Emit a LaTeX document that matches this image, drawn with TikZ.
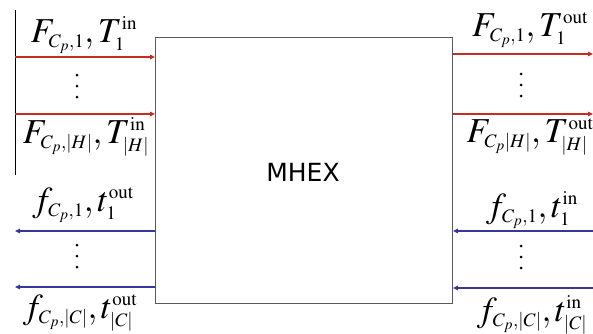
\documentclass[tikz,border=0pt]{standalone}
\usepackage{mathptmx}
\usepackage{fontspec}
\newfontfamily\labelsans{DejaVu Sans}
\usetikzlibrary{arrows.meta}
\DeclareMathSizes{35}{35}{19}{15}
\definecolor{hotred}{RGB}{200,45,35}
\definecolor{coldblue}{RGB}{55,55,155}
\definecolor{boxgray}{RGB}{90,90,90}
\tikzset{
  hotarrow/.style={draw=hotred, line width=1.2pt, -{Triangle[length=5pt,width=4.5pt]}},
  coldarrow/.style={draw=coldblue, line width=1.2pt, -{Triangle[length=5pt,width=4.5pt]}},
  streamlabel/.style={inner sep=0pt, font=\fontsize{35}{40}\selectfont},
  dotmark/.style={fill=black, circle, inner sep=0pt, minimum size=3pt},
  unitbox/.style={draw=boxgray, line width=1pt, minimum width=297pt, minimum height=266pt, inner sep=0pt}
}
\begin{document}
\begin{tikzpicture}[x=1pt,y=-1pt]
\useasboundingbox (0,0) rectangle (593,333);
\node[unitbox] (mhex) at (304,170) {};
\node[font=\labelsans\fontsize{25}{30}\selectfont] (mhexlabel) at (303,172) {MHEX};
% black vertical line
\coordinate (vtop) at (15,10);
\coordinate (vbot) at (15,175);
\draw[black, line width=1pt] (vtop) -- (vbot);
% hot inlets (left)
\coordinate (hinA) at (15,57);
\coordinate (hinB) at (15,114);
\draw[hotarrow] (hinA) -- (hinA -| mhex.west);
\draw[hotarrow] (hinB) -- (hinB -| mhex.west);
% hot outlets (right)
\coordinate (houtA) at (593,54);
\coordinate (houtB) at (593,114);
\draw[hotarrow] (houtA -| mhex.east) -- (houtA);
\draw[hotarrow] (houtB -| mhex.east) -- (houtB);
% cold outlets (left)
\coordinate (coutA) at (15,231);
\coordinate (coutB) at (15,287);
\draw[coldarrow] (coutA -| mhex.west) -- (coutA);
\draw[coldarrow] (coutB -| mhex.west) -- (coutB);
% cold inlets (right)
\coordinate (cinA) at (593,231);
\coordinate (cinB) at (593,288);
\draw[coldarrow] (cinA) -- (cinA -| mhex.east);
\draw[coldarrow] (cinB) -- (cinB -| mhex.east);
% labels
\node[streamlabel] (l1) at (84,35) {$F_{C_p,1},T_1^{\mathrm{in}}$};
\node[streamlabel] (l2) at (86,137) {$F_{C_p,|H|},T_{|H|}^{\mathrm{in}}$};
\node[streamlabel] (r1) at (530,30) {$F_{C_p,1},T_1^{\mathrm{out}}$};
\node[streamlabel] (r2) at (530,137) {$F_{C_p|H|},T_{|H|}^{\mathrm{out}}$};
\node[streamlabel] (l3) at (83,205) {$f_{C_p,1},t_1^{\mathrm{out}}$};
\node[streamlabel] (l4) at (80,313) {$f_{C_p,|C|},t_{|C|}^{\mathrm{out}}$};
\node[streamlabel] (r3) at (532,210) {$f_{C_p,1},t_1^{\mathrm{in}}$};
\node[streamlabel] (r4) at (532,315) {$f_{C_p,|C|},t_{|C|}^{\mathrm{in}}$};
% dots
\foreach \dy in {0,11,22} {
  \node[dotmark] at (77,75+\dy) {};
  \node[dotmark] at (521,74+\dy) {};
  \node[dotmark] at (77,245+\dy) {};
  \node[dotmark] at (521,246+\dy) {};
}
\end{tikzpicture}
\end{document}
